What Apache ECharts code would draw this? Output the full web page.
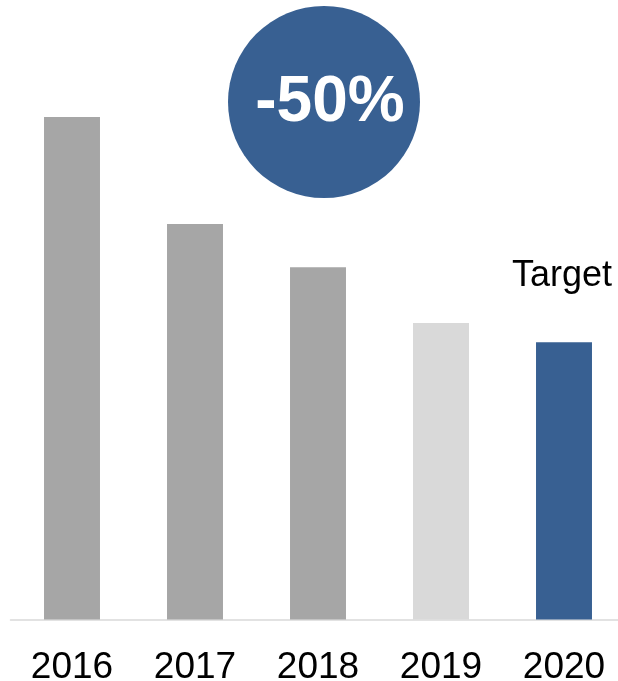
<!DOCTYPE html>
<html>
<head>
<meta charset="utf-8">
<script src="https://cdn.jsdelivr.net/npm/echarts@6/dist/echarts.min.js"></script>
<style>
  html, body { margin: 0; padding: 0; background: #fff; }
  #chart { width: 618px; height: 681px; }
</style>
</head>
<body>
<div id="chart"></div>
<script>
// Emissions by year, indexed units
const years = ['2016', '2017', '2018', '2019', '2020'];
const values = [100, 78.7, 70.1, 59.0, 55.2];
const barColors = ['#A6A6A6', '#A6A6A6', '#A6A6A6', '#D9D9D9', '#386092'];
const targetLabel = 'Target';
const reductionText = '-50%';

const chart = echarts.init(document.getElementById('chart'), null, { renderer: 'canvas' });

chart.setOption({
  animation: false,
  backgroundColor: '#ffffff',
  textStyle: { fontFamily: 'Liberation Sans, Arial, sans-serif' },
  grid: {
    left: 10.5, width: 615, top: 0, bottom: 61.5,
    containLabel: false, outerBoundsMode: 'none'
  },
  xAxis: {
    type: 'category',
    data: years,
    axisLine: { show: true, lineStyle: { color: '#D9D9D9', width: 1.5 } },
    axisTick: { show: false },
    axisLabel: {
      color: '#000',
      fontSize: 37,
      margin: 30,
      fontFamily: 'Liberation Sans, Arial, sans-serif'
    }
  },
  yAxis: {
    type: 'value',
    min: 0,
    max: 123.3,
    show: false,
    splitLine: { show: false }
  },
  series: [{
    type: 'bar',
    barWidth: '45.5%',
    data: values.map((v, i) => ({
      value: v,
      itemStyle: { color: barColors[i] },
      label: i === values.length - 1 ? {
        show: true,
        position: 'top',
        distance: 48,
        offset: [-2, 0],
        formatter: targetLabel,
        color: '#000',
        fontSize: 36,
        fontFamily: 'Liberation Sans, Arial, sans-serif'
      } : { show: false }
    }))
  }],
  graphic: [{
    type: 'group',
    left: 228,
    top: 6,
    children: [{
      type: 'circle',
      shape: { cx: 96, cy: 96, r: 96 },
      style: { fill: '#386092' }
    }, {
      type: 'text',
      x: 102,
      y: 97,
      style: {
        text: reductionText,
        fill: '#fff',
        font: 'bold 64px "Liberation Sans", Arial, sans-serif',
        textAlign: 'center',
        textVerticalAlign: 'middle'
      }
    }]
  }]
});
</script>
</body>
</html>
